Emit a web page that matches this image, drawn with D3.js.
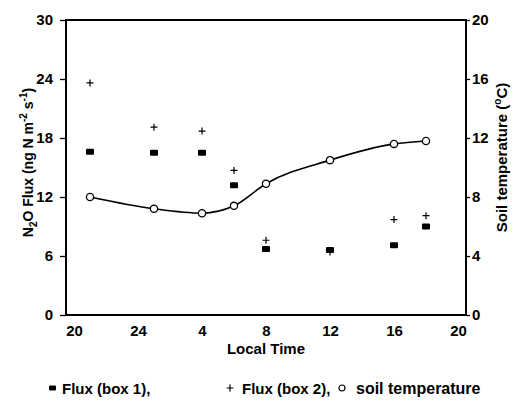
<!DOCTYPE html>
<html>
<head>
<meta charset="utf-8">
<script src="https://cdn.jsdelivr.net/npm/d3@7"></script>
<style>
body { margin: 0; background: #fff; }
text { font-family: "Liberation Sans", Arial, sans-serif; fill: #000; }
</style>
</head>
<body>
<div id="chart"></div>
<script>
// local time in hours, counted on from 20 h of the first evening
var hours = [21, 25, 28, 30, 32, 36, 40, 42];
var fluxBox1 = [16.6, 16.5, 16.5, 13.2, 6.7, 6.6, 7.1, 9.0];
var fluxBox2 = [23.6, 19.1, 18.7, 14.7, 7.6, 6.4, 9.7, 10.1];
var soilTemp = [8.0, 7.2, 6.9, 7.4, 8.9, 10.5, 11.6, 11.8];

var timeTicks = [20, 24, 28, 32, 36, 40, 44];
var timeTickLabels = ['20', '24', '4', '8', '12', '16', '20'];
var fluxTicks = [0, 6, 12, 18, 24, 30];
var tempTicks = [0, 4, 8, 12, 16, 20];

var margin = {top: 20, right: 49, bottom: 86, left: 66};
var fullWidth = 515;
var fullHeight = 401;
var width = fullWidth - margin.left - margin.right;
var height = fullHeight - margin.top - margin.bottom;

var svg = d3.select('#chart').append('svg')
  .attr('width', fullWidth)
  .attr('height', fullHeight);

var g = svg.append('g')
  .attr('transform', 'translate(' + margin.left + ',' + margin.top + ')');

var timeScale = d3.scaleLinear().domain([19.5, 44.5]).range([0, width]);
var fluxScale = d3.scaleLinear().domain([0, 30]).range([height, 0]);
var tempScale = d3.scaleLinear().domain([0, 20]).range([height, 0]);

// axes
var xAxis = d3.axisBottom(timeScale)
  .tickValues(timeTicks)
  .tickFormat(function(d, i) { return timeTickLabels[i]; })
  .tickSize(0)
  .tickPadding(10);
var yAxis = d3.axisLeft(fluxScale).tickValues(fluxTicks).tickSize(6).tickPadding(7);
var y2Axis = d3.axisRight(tempScale).tickValues(tempTicks).tickSize(4).tickPadding(2);

var xAxisEle = g.append('g')
  .attr('transform', 'translate(0,' + height + ')')
  .call(xAxis);
var yAxisEle = g.append('g').call(yAxis);
var y2AxisEle = g.append('g')
  .attr('transform', 'translate(' + width + ',0)')
  .call(y2Axis);

[xAxisEle, yAxisEle, y2AxisEle].forEach(function(a) {
  a.select('.domain').remove();
  a.selectAll('.tick line').attr('stroke', '#000').attr('stroke-width', 1.3);
  a.selectAll('.tick text')
    .style('font-size', '15px')
    .style('font-weight', 'bold');
});

// frame
g.append('rect')
  .attr('width', width)
  .attr('height', height)
  .attr('fill', 'none')
  .attr('stroke', '#000')
  .attr('stroke-width', 2);

// axis titles
g.append('text')
  .attr('x', width / 2)
  .attr('y', height + 39)
  .style('text-anchor', 'middle')
  .style('font-size', '15px')
  .style('font-weight', 'bold')
  .text('Local Time');

var yText = g.append('text')
  .attr('transform', 'translate(-33,' + (height / 2 - 5) + ')rotate(-90)')
  .style('text-anchor', 'middle')
  .style('font-size', '14px')
  .style('font-weight', 'bold');
yText.append('tspan').text('N');
yText.append('tspan').attr('dy', 4).style('font-size', '10px').text('2');
yText.append('tspan').attr('dy', -4).text('O Flux (ng N m');
yText.append('tspan').attr('dy', -6).style('font-size', '10px').text('-2');
yText.append('tspan').attr('dy', 6).text(' s');
yText.append('tspan').attr('dy', -6).style('font-size', '10px').text('-1');
yText.append('tspan').attr('dy', 6).text(')');

var y2Text = g.append('text')
  .attr('transform', 'translate(' + (width + 41) + ',' + (height / 2 - 10) + ')rotate(-90)')
  .style('text-anchor', 'middle')
  .style('font-size', '15px')
  .style('font-weight', 'bold');
y2Text.append('tspan').text('Soil temperature (');
y2Text.append('tspan').attr('dy', -6).style('font-size', '10px').text('o');
y2Text.append('tspan').attr('dy', 6).text('C)');

// soil temperature line
var line = d3.line()
  .x(function(d, i) { return timeScale(hours[i]); })
  .y(function(d) { return tempScale(d); })
  .curve(d3.curveMonotoneX);

g.append('path')
  .datum(soilTemp)
  .attr('d', line)
  .attr('fill', 'none')
  .attr('stroke', '#000')
  .attr('stroke-width', 1.6);

// flux box 1: filled squares
g.selectAll('rect.box1')
    .data(fluxBox1)
  .enter().append('rect')
    .classed('box1', true)
    .attr('x', function(d, i) { return timeScale(hours[i]) - 4; })
    .attr('y', function(d) { return fluxScale(d) - 3; })
    .attr('width', 8)
    .attr('height', 6)
    .attr('rx', 1)
    .attr('fill', '#000');

// flux box 2: plus signs
g.selectAll('path.box2')
    .data(fluxBox2)
  .enter().append('path')
    .classed('box2', true)
    .attr('d', function(d, i) {
      var x = timeScale(hours[i]), y = fluxScale(d);
      return 'M' + (x - 3.5) + ',' + y + 'H' + (x + 3.5) + 'M' + x + ',' + (y - 3.5) + 'V' + (y + 3.5);
    })
    .attr('stroke', '#000')
    .attr('stroke-width', 1.2);

// soil temperature: open circles
g.selectAll('circle.temp')
    .data(soilTemp)
  .enter().append('circle')
    .classed('temp', true)
    .attr('cx', function(d, i) { return timeScale(hours[i]); })
    .attr('cy', function(d) { return tempScale(d); })
    .attr('r', 3.6)
    .attr('fill', '#fff')
    .attr('stroke', '#000')
    .attr('stroke-width', 1.3);

// legend
var legend = svg.append('g').attr('transform', 'translate(0,388)');
legend.append('rect')
  .attr('x', 49).attr('y', -2.5).attr('width', 7).attr('height', 5).attr('rx', 1)
  .attr('fill', '#000');
legend.append('text').attr('x', 62).attr('y', 5.5)
  .style('font-size', '15px').style('font-weight', 'bold').text('Flux (box 1),');
legend.append('path')
  .attr('d', 'M226.5,0H233.5M230,-3.5V3.5')
  .attr('stroke', '#000').attr('stroke-width', 1.2);
legend.append('text').attr('x', 242).attr('y', 5.5)
  .style('font-size', '15px').style('font-weight', 'bold').text('Flux (box 2),');
legend.append('circle')
  .attr('cx', 342).attr('cy', 0).attr('r', 3)
  .attr('fill', '#fff').attr('stroke', '#000').attr('stroke-width', 1.2);
legend.append('text').attr('x', 356).attr('y', 6)
  .style('font-size', '16px').style('font-weight', 'bold').text('soil temperature');
</script>
</body>
</html>
